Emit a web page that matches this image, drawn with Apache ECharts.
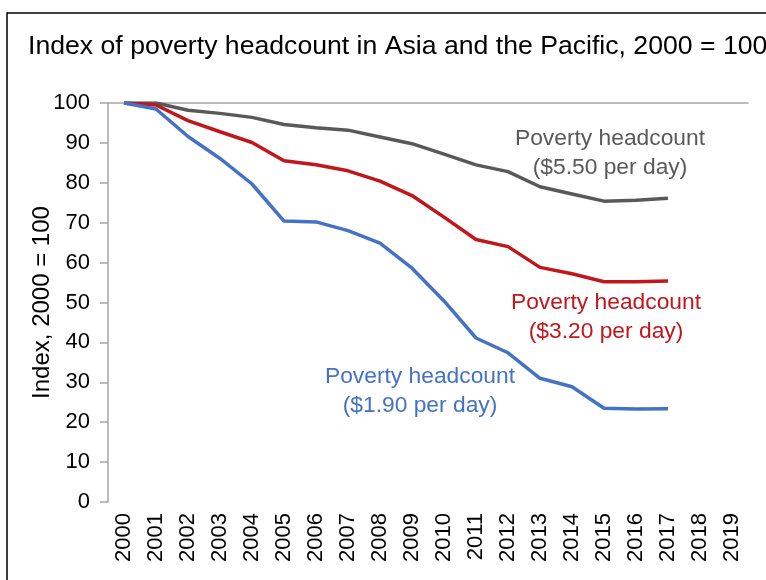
<!DOCTYPE html>
<html><head><meta charset="utf-8">
<script src="https://cdn.jsdelivr.net/npm/echarts@6/dist/echarts.min.js"></script>
<style>html,body{margin:0;padding:0;background:#fff}#c{width:766px;height:580px}</style>
</head><body><div id="c"></div>
<script>
const years = ['2000','2001','2002','2003','2004','2005','2006','2007','2008','2009','2010','2011','2012','2013','2014','2015','2016','2017','2018','2019'];
const yTicks = [0,10,20,30,40,50,60,70,80,90,100];
const pov190 = [100,98.5,91.6,86.1,79.7,70.4,70.2,68.0,64.9,58.6,50.4,41.1,37.4,31.0,28.9,23.5,23.3,23.4,null,null];
const pov320 = [100,99.5,95.6,92.8,90.1,85.5,84.5,83.0,80.4,76.8,71.4,65.8,64.0,58.8,57.2,55.2,55.2,55.4,null,null];
const pov550 = [100,100,98.2,97.4,96.4,94.6,93.8,93.2,91.5,89.8,87.2,84.5,82.8,79.0,77.2,75.4,75.6,76.1,null,null];
const names = ['Poverty headcount ($1.90 per day)','Poverty headcount ($3.20 per day)','Poverty headcount ($5.50 per day)'];
const colors = ['#4472C4','#C0161C','#595959'];
const FONT = '"Liberation Sans", Arial, sans-serif';

const chart = echarts.init(document.getElementById('c'), null, {renderer:'canvas'});
const mkSeries = (name, data, color) => ({
  name, type:'line', data, symbol:'none', smooth:false, connectNulls:false,
  lineStyle:{color, width:3.5}, itemStyle:{color}, xAxisIndex:0, yAxisIndex:0
});
chart.setOption({
  animation:false,
  backgroundColor:'#fff',
  textStyle:{fontFamily:FONT},
  grid:{left:108, right:18, top:103, bottom:78, containLabel:false},
  xAxis:[{
    type:'category', data:years, boundaryGap:true, position:'bottom',
    axisLine:{show:false}, axisTick:{show:false},
    axisLabel:{rotate:90, interval:0, margin:11, fontSize:22, color:'#000', fontFamily:FONT}
  },{
    type:'category', data:years, boundaryGap:true, position:'top',
    axisLine:{show:true, lineStyle:{color:'#A6A6A6', width:1.5}}, axisTick:{show:false}, axisLabel:{show:false}
  }],
  yAxis:{
    type:'value', min:yTicks[0], max:yTicks[yTicks.length-1], interval:10,
    name:'Index, 2000 = 100', nameLocation:'middle', nameRotate:90, nameGap:54, nameMoveOverlap:false,
    nameTextStyle:{fontSize:24, color:'#000', fontFamily:FONT},
    axisLine:{show:true, lineStyle:{color:'#A6A6A6', width:1.5}},
    axisTick:{show:true, inside:false, length:8, lineStyle:{color:'#A6A6A6', width:1.5}},
    axisLabel:{margin:18, fontSize:22, color:'#000', fontFamily:FONT},
    splitLine:{show:false}
  },
  series:[
    mkSeries(names[2], pov550, colors[2]),
    mkSeries(names[1], pov320, colors[1]),
    mkSeries(names[0], pov190, colors[0])
  ],
  graphic:[
    {type:'rect', shape:{x:7, y:13, width:820, height:640}, style:{fill:'none', stroke:'#000', lineWidth:1.5}, silent:true},
    {type:'text', x:28, y:35, scaleX:1.065, style:{text:'Index of poverty headcount in Asia and the Pacific, 2000 = 100', font:'25px '+FONT, fill:'#000'}},
    {type:'text', x:610, y:153, style:{text:'Poverty headcount\n($5.50 per day)', font:'22.8px '+FONT, fill:'#595959', align:'center', verticalAlign:'middle', lineHeight:29}},
    {type:'text', x:606, y:317, style:{text:'Poverty headcount\n($3.20 per day)', font:'22.8px '+FONT, fill:colors[1], align:'center', verticalAlign:'middle', lineHeight:29}},
    {type:'text', x:420, y:391, style:{text:'Poverty headcount\n($1.90 per day)', font:'22.8px '+FONT, fill:colors[0], align:'center', verticalAlign:'middle', lineHeight:29}}
  ]
});
</script></body></html>
